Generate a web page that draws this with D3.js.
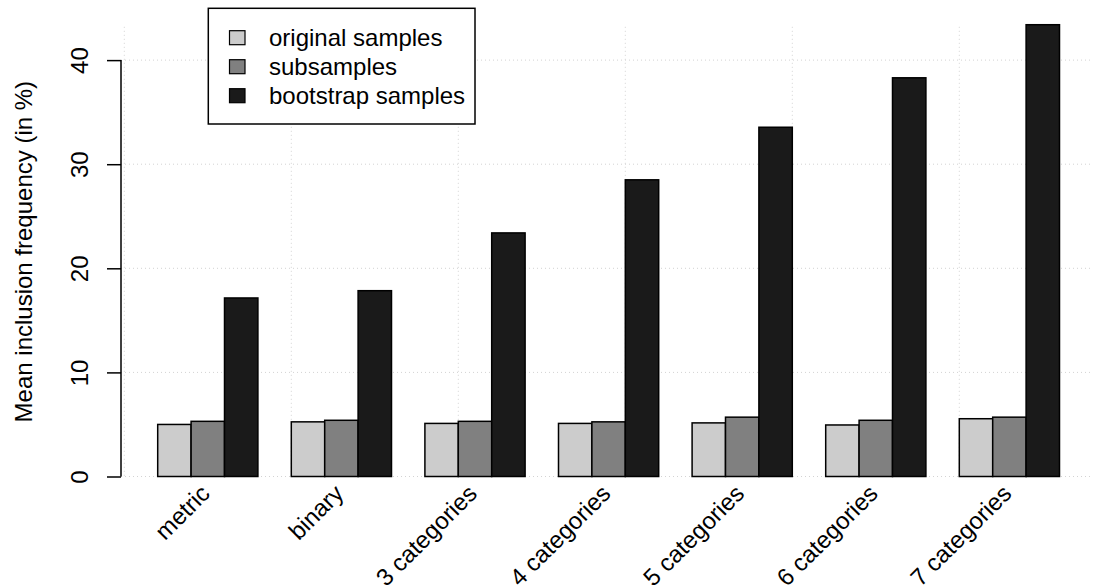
<!DOCTYPE html>
<html>
<head>
<meta charset="utf-8">
<script src="https://cdn.jsdelivr.net/npm/d3@7"></script>
<style>
  html, body { margin: 0; padding: 0; background: #fff; }
  svg text { font-family: "Liberation Sans", Arial, Helvetica, sans-serif; fill: #000; }
</style>
</head>
<body>
<svg id="chart" width="1094" height="585"></svg>
<script>
const categories = ["metric", "binary", "3 categories", "4 categories", "5 categories", "6 categories", "7 categories"];
const seriesNames = ["original samples", "subsamples", "bootstrap samples"];
const original  = [5.0, 5.25, 5.1, 5.1, 5.15, 4.95, 5.55];
const subsamples = [5.3, 5.4, 5.3, 5.25, 5.7, 5.4, 5.7];
const bootstrap = [17.15, 17.85, 23.4, 28.5, 33.55, 38.3, 43.4];
const yTicks = [0, 10, 20, 30, 40];
const colors = ["#cccccc", "#808080", "#1a1a1a"];

const series = [original, subsamples, bootstrap];
const svg = d3.select("#chart");
const FS = 24;

// scales (R barplot-style units: each group = 1 space + 3 bars)
const x = d3.scaleLinear().domain([0, 28]).range([124.3, 1059.5]);
const y = d3.scaleLinear().domain([0, 43.2]).range([476.5, 26.8]);
const plotLeft = 121, plotRight = 1090, plotTop = y.range()[1], plotBottom = 478;

// grid
const grid = svg.append("g").attr("stroke", "#d3d3d3").attr("stroke-dasharray", "1,3").attr("stroke-width", 1);
grid.selectAll("line.h").data(yTicks).join("line")
  .attr("x1", plotLeft).attr("x2", plotRight)
  .attr("y1", d => y(d)).attr("y2", d => y(d));
grid.selectAll("line.v").data(d3.range(0, 28, 5)).join("line")
  .attr("x1", d => x(d)).attr("x2", d => x(d))
  .attr("y1", plotTop).attr("y2", plotBottom);

// bars
const barData = [];
categories.forEach((c, i) => {
  series.forEach((s, j) => {
    barData.push({ u: i * 4 + 1 + j, v: s[i], color: colors[j] });
  });
});
svg.append("g").selectAll("rect").data(barData).join("rect")
  .attr("x", d => x(d.u))
  .attr("width", d => x(d.u + 1) - x(d.u))
  .attr("y", d => y(d.v))
  .attr("height", d => y(0) - y(d.v))
  .attr("fill", d => d.color)
  .attr("stroke", "#000").attr("stroke-width", 1.5);

// y axis
const yAxis = d3.axisLeft(y).tickValues(yTicks).tickSize(14).tickPadding(0).tickFormat(d3.format("d"));
const ya = svg.append("g").attr("transform", `translate(${plotLeft},0)`).call(yAxis);
ya.select(".domain").attr("d", `M-0,${y(0)}V${y(40)}`).attr("stroke", "#000").attr("stroke-width", 1.5);
ya.selectAll(".tick line").attr("stroke", "#000").attr("stroke-width", 1.5);
ya.selectAll(".tick text").remove();
ya.selectAll(".tick").append("text")
  .attr("transform", "translate(-42,0) rotate(-90)")
  .attr("text-anchor", "middle").attr("dominant-baseline", "central")
  .attr("font-size", FS).attr("fill", "#000")
  .text(d => d);

// y title
svg.append("text")
  .attr("transform", `translate(23,${(y(0) + plotTop) / 2}) rotate(-90)`)
  .attr("text-anchor", "middle").attr("dominant-baseline", "central")
  .attr("font-size", FS)
  .text("Mean inclusion frequency (in %)");

// x labels (rotated)
svg.append("g").selectAll("text").data(categories).join("text")
  .attr("transform", (d, i) => `translate(${x(i * 4 + 2.5) - 2.5},${489}) rotate(-45)`)
  .attr("text-anchor", "end").attr("dominant-baseline", "central")
  .attr("font-size", FS)
  .text(d => d);

// legend
const lg = svg.append("g");
lg.append("rect").attr("x", 208.3).attr("y", 8.3).attr("width", 266.7).attr("height", 115.7)
  .attr("fill", "#fff").attr("stroke", "#000").attr("stroke-width", 1.5);
const rows = lg.selectAll("g.row").data(seriesNames).join("g")
  .attr("transform", (d, i) => `translate(0,${37.7 + i * 29})`);
rows.append("rect").attr("x", 229.5).attr("y", -7).attr("width", 15.5).attr("height", 14)
  .attr("fill", (d, i) => colors[i]).attr("stroke", "#000").attr("stroke-width", 1.2);
rows.append("text").attr("x", 269).attr("y", 0).attr("dominant-baseline", "central")
  .attr("font-size", FS).text(d => d);
</script>
</body>
</html>
